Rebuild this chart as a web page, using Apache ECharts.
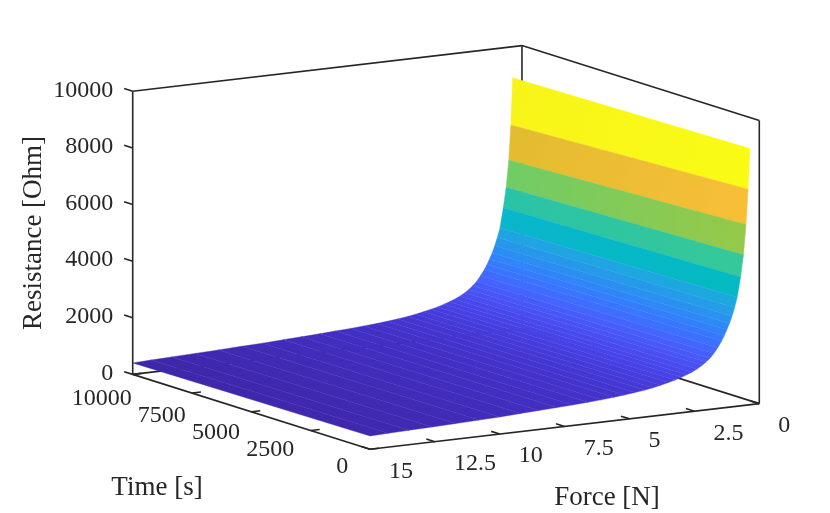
<!DOCTYPE html>
<html>
<head>
<meta charset="utf-8">
<title>Resistance vs force and time</title>
<script src="https://cdn.jsdelivr.net/npm/echarts@6/dist/echarts.min.js"></script>
<style>
  html, body { margin: 0; padding: 0; background: #fff; }
  #chart { width: 830px; height: 513px; }
</style>
</head>
<body>
<div id="chart"></div>
<script>
// force rows of the surface [N]
const forceN = [0.36, 0.43, 0.51, 0.61, 0.72, 0.85, 0.95, 1.05, 1.15, 1.25, 1.35, 1.45,
  1.6, 1.75, 1.9, 2.05, 2.2, 2.4, 2.6, 2.8, 3.0, 3.25, 3.5, 3.8, 4.1, 4.4, 4.8, 5.2,
  5.6, 6.1, 6.6, 7.2, 7.8, 8.5, 9.2, 10, 10.8, 11.7, 12.6, 13.5, 14.3, 15]
// time columns [s]
const timeS = [0, 10000]
// resistance [Ohm] per force row, at t = 0 s and t = 10000 s
const resistT0 = [9050, 7620, 6380, 5320, 4550, 3850, 3500, 3200, 2950, 2740, 2540, 2370,
  2150, 1960, 1810, 1690, 1590, 1480, 1390, 1320, 1250, 1180, 1120, 1060, 1000, 955, 905, 865,
  830, 790, 760, 728, 700, 670, 640, 605, 580, 555, 530, 510, 490, 470]
const resistT1 = [8900, 7240, 6010, 5060, 4350, 3650, 3320, 3040, 2800, 2600, 2410, 2250,
  2040, 1860, 1720, 1605, 1510, 1405, 1320, 1250, 1190, 1120, 1065, 1005, 950, 905, 860, 820,
  785, 750, 720, 690, 660, 630, 600, 565, 540, 510, 480, 455, 430, 405]

const forceTicks = [0, 2.5, 5, 7.5, 10, 12.5, 15]
const timeTicks = [0, 2500, 5000, 7500, 10000]
const resistTicks = [0, 2000, 4000, 6000, 8000, 10000]

const forceRange = [0, 15]
const timeRange = [0, 10000]
const resistRange = [0, 10000]

// parula colormap
const parula = ['#3e26a8', '#4332cb', '#4741e5', '#4852f4', '#4563fd', '#3875fe', '#2e87f7',
  '#2796eb', '#20a5e3', '#12b1d6', '#02bac3', '#24c1ae', '#37c897', '#57cc7a', '#80cc59',
  '#abc739', '#d1bf27', '#efba36', '#fec338', '#f9d62d', '#f5e924', '#f9fb15']

// view: rotation of the floor, elevation, height of the box relative to its floor side
const theta = 31.37 * Math.PI / 180
const elev = 11.1 * Math.PI / 180
const zAspect = 0.633

const axisColor = '#262626'
const fontFamily = '"Liberation Serif", "Times New Roman", serif'
const tickLen = 9

function project(t, f, r) {
  const tn = (t - timeRange[0]) / (timeRange[1] - timeRange[0])
  const fn = (forceRange[1] - f) / (forceRange[1] - forceRange[0])
  const zn = (r - resistRange[0]) / (resistRange[1] - resistRange[0])
  const u = fn * Math.cos(theta) - tn * Math.sin(theta)
  const v = (fn * Math.sin(theta) + tn * Math.cos(theta)) * Math.sin(elev) +
    zn * zAspect * Math.cos(elev)
  return [u, v]
}

const uMin = -Math.sin(theta)
const uMax = Math.cos(theta)
const vMax = (Math.sin(theta) + Math.cos(theta)) * Math.sin(elev) + zAspect * Math.cos(elev)

const zMin = Math.min(...resistT0, ...resistT1)
const zMax = Math.max(...resistT0, ...resistT1)

function colorOf(r) {
  return echarts.color.lerp((r - zMin) / (zMax - zMin), parula)
}

function unitDir(api, p0, p1) {
  const a = api.coord(p0)
  const b = api.coord(p1)
  const len = Math.hypot(b[0] - a[0], b[1] - a[1])
  return [(b[0] - a[0]) / len, (b[1] - a[1]) / len]
}

function line(a, b) {
  return {
    type: 'line',
    shape: { x1: a[0], y1: a[1], x2: b[0], y2: b[1] },
    style: { stroke: axisColor, lineWidth: 1.6 }
  }
}

function label(text, x, y, align) {
  return {
    type: 'text',
    x: x,
    y: y,
    style: {
      text: text,
      fill: axisColor,
      fontFamily: fontFamily,
      fontSize: 24,
      align: align,
      verticalAlign: 'middle'
    }
  }
}

function renderFrame(params, api) {
  const P = (t, f, r) => api.coord(project(t, f, r))
  const t0 = timeRange[0], t1 = timeRange[1]
  const f0 = forceRange[0], f1 = forceRange[1]
  const r0 = resistRange[0], r1 = resistRange[1]
  const children = []

  // back box edges
  children.push(line(P(t1, f1, r0), P(t1, f0, r0)))
  children.push(line(P(t1, f0, r0), P(t0, f0, r0)))
  children.push(line(P(t1, f1, r0), P(t1, f1, r1)))
  children.push(line(P(t1, f0, r0), P(t1, f0, r1)))
  children.push(line(P(t0, f0, r0), P(t0, f0, r1)))
  children.push(line(P(t1, f1, r1), P(t1, f0, r1)))
  children.push(line(P(t1, f0, r1), P(t0, f0, r1)))
  // time and force axes
  children.push(line(P(t1, f1, r0), P(t0, f1, r0)))
  children.push(line(P(t0, f1, r0), P(t0, f0, r0)))

  // time ticks point towards lower force
  const dT = unitDir(api, project(t0, f1, r0), project(t0, f0, r0))
  timeTicks.forEach(t => {
    const p = P(t, f1, r0)
    children.push(line(p, [p[0] + dT[0] * tickLen, p[1] + dT[1] * tickLen]))
    const q = P(t * 0.913, f1, r0)
    children.push(label(String(t), q[0] - 21.7, q[1] + 17.4, 'right'))
  })

  // force ticks point towards longer time
  const dF = unitDir(api, project(t0, f1, r0), project(t1, f1, r0))
  forceTicks.forEach(f => {
    const p = P(t0, f, r0)
    children.push(line(p, [p[0] + dF[0] * tickLen, p[1] + dF[1] * tickLen]))
    children.push(label(String(f), p[0] + 19, p[1] + 22, 'left'))
  })

  // resistance ticks on the left vertical edge
  resistTicks.forEach(r => {
    const p = P(t1, f1, r)
    children.push(line(p, [p[0] + dF[0] * tickLen, p[1] + dF[1] * tickLen]))
    children.push(label(String(r), p[0] - 19.5, p[1] - 1, 'right'))
  })

  return { type: 'group', children: children }
}

function renderSurface(params, api) {
  const i = api.value(0)
  const P = (t, f, r) => api.coord(project(t, f, r))
  const a = P(timeS[0], forceN[i], resistT0[i])
  const b = P(timeS[0], forceN[i + 1], resistT0[i + 1])
  const c = P(timeS[1], forceN[i + 1], resistT1[i + 1])
  const d = P(timeS[1], forceN[i], resistT1[i])
  const fill = new echarts.graphic.LinearGradient(a[0], a[1], d[0], d[1], [
    { offset: 0, color: colorOf(resistT0[i]) },
    { offset: 1, color: colorOf(resistT1[i]) }
  ], true)
  return {
    type: 'polygon',
    shape: { points: [a, b, c, d] },
    style: { fill: fill, stroke: fill, lineWidth: 0.4 }
  }
}

const chart = echarts.init(document.getElementById('chart'))

const titleStyle = {
  fill: axisColor,
  fontFamily: fontFamily,
  fontSize: 27,
  align: 'center',
  verticalAlign: 'middle'
}

chart.setOption({
  animation: false,
  grid: { left: 132.7, right: 70.7, top: 45.6, bottom: 63.7 },
  xAxis: { type: 'value', min: uMin, max: uMax, show: false },
  yAxis: { type: 'value', min: 0, max: vMax, show: false },
  graphic: [
    { type: 'text', x: 34, y: 233, rotation: Math.PI / 2,
      style: Object.assign({ text: 'Resistance [Ohm]' }, titleStyle) },
    { type: 'text', x: 157, y: 488, style: Object.assign({ text: 'Time [s]' }, titleStyle) },
    { type: 'text', x: 607, y: 498, style: Object.assign({ text: 'Force [N]' }, titleStyle) }
  ],
  series: [
    {
      type: 'custom',
      z: 1,
      silent: true,
      renderItem: renderFrame,
      data: [[0, 0]]
    },
    {
      type: 'custom',
      z: 2,
      silent: true,
      renderItem: renderSurface,
      data: forceN.slice(0, -1).map((f, i) => [i, 0])
    }
  ]
})
</script>
</body>
</html>
